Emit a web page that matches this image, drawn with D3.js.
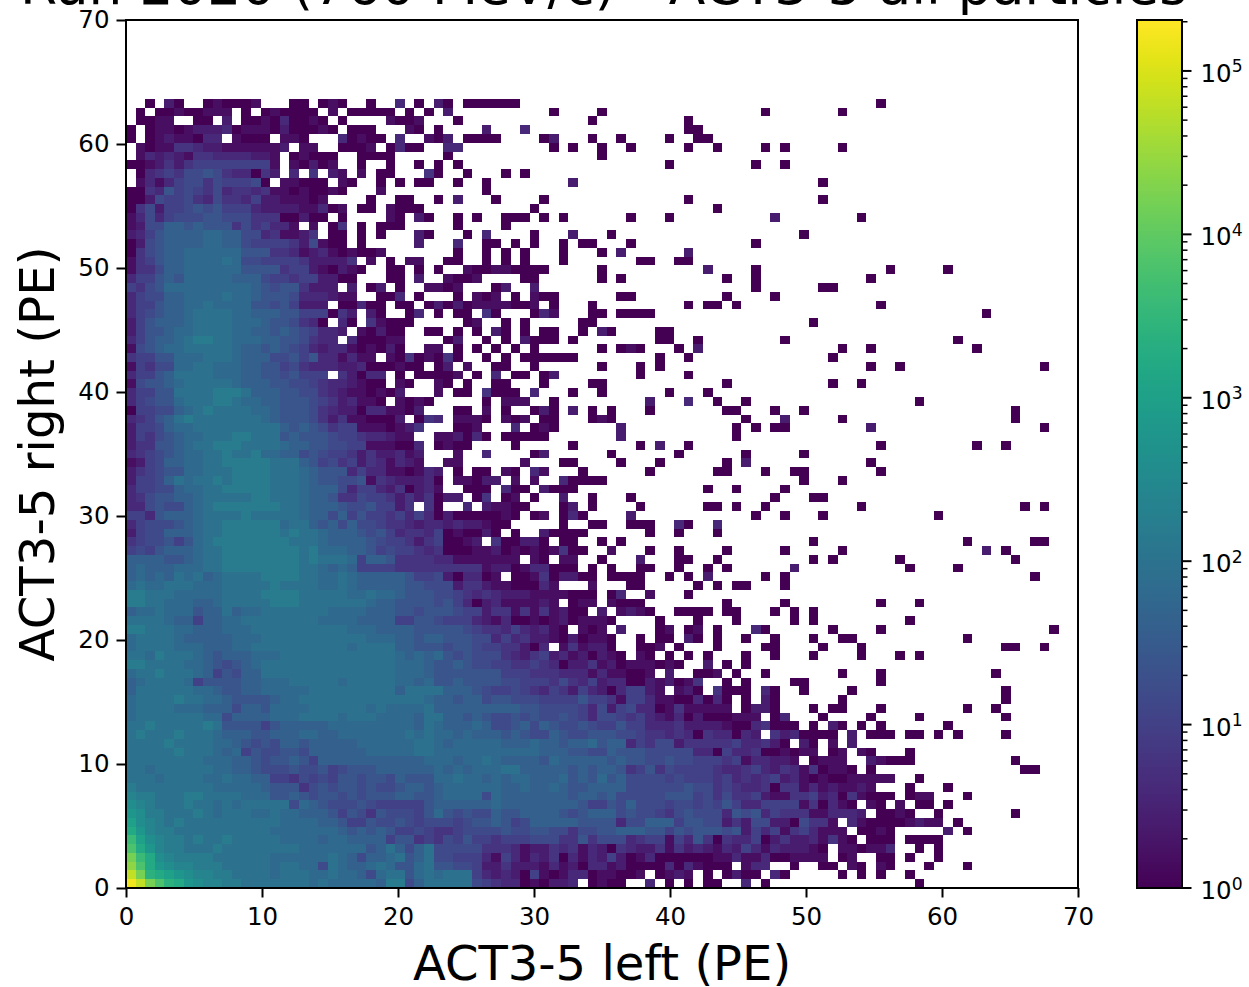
<!DOCTYPE html>
<html><head><meta charset="utf-8">
<script src="https://cdn.jsdelivr.net/npm/d3@7"></script>
<style>html,body{margin:0;padding:0;background:#fff;overflow:hidden}svg{display:block}text{font-family:"DejaVu Sans";fill:#000}</style>
</head><body><svg id="c" width="1249" height="987"></svg>
<script>
const titleText = "Run 2020 (760 MeV/c) - ACT3-5 all particles";
const xLabel = "ACT3-5 left (PE)";
const yLabel = "ACT3-5 right (PE)";
const axisTicks = [0,10,20,30,40,50,60,70];
const axisMax = 70;
const binCount = 99;
const colorMin = 1, colorMax = 2.05e5;
const colorDecades = [0,1,2,3,4,5];
// each character is a count level in base 36: count = 10^(level/5); "." is an empty bin
// columns 0-31, rows from bottom to top
const leftColumns = [
"qoljhgedcc bbaaaaaaa9 a999998bb6 8a","olhgfedccb baaaa9aaa9 9a99869aa7 9a","mjgedccbbb aaaaa9aa99 6a9889a977 9a","ligdcbbbba aaaaa99999 9a986889a7 8a",
"jgecbbaaab aaaaaaaa99 9999978a86 8a","ifdcbbabaa baaaaa9999 8998888577 45","gecbbaaaaa aaaaa99999 9987878755 65","fdcbabaaaa aaaaaa9999 8875576676 56",
"edbbaaaba9 aaa99a9988 8757647666 57","dcbaaabaa9 a9aaaaa698 7666765555 57","cbbaaabbaa aa99977876 7767677788 77","baaaaaaaa9 9999877746 7677676678 87",
"aaa9aaaa99 a998855465 6577677687 77","aa9aaaaaa9 9887666766 7567778888 88","aaaaaaaa99 9887677875 8888888888 89","aaaaabaaa9 8957667768 8888899999 aa",
"aaaabaaaa9 9876768878 8888999999 aa","abaaabaaa9 8887788899 889999999a 9a","aabaaaaaba 7777578888 8999999999 8a","9aaaaaaa99 68888999aa aa9aaa9999 8a",
"9aaaa99988 868879999a aaaaa9a999 9a","9aaaabaa99 87777899aa aaaaaaaaaa a9","8aaaaaa998 778899999a aaaaaaaa8a aa","89aaaa9577 7788999aaa aa9aaaaa99 89",
"9aabaaa985 7688aaaaaa aaaaaaaa99 98","bbaaaa9987 6789aaaaaa aaaaaaaa99 98","aa9baaa987 888999aaaa aaaaaaaa98 98","9aaaa99988 899aaaaaaa aaa9aaaa88 77",
"9aaaa98888 8999aaaaaa aaaaa99988 78","bbaaa99888 999aaaaaaa aaa9998888 77","aaaa988588 99aaaaaaaa 9999888855 77","899a999788 a899aaaaaa a999988877 67",
"bbaa999889 aaaaabbbaa aaaaa98877 77","bbaaa99999 aaaabbbbaa aaa99a9987 77","9a99aaa999 aaaaabaaaa 99a9888887 76","89898a9a89 aaaabbbbaa 99a9888887 55",
"89888999aa bbbbbbbbaa 9898555544 44","88887789aa bbbbbbbbab aaa9588744 44","56578889aa bbbbbbbbab 9998875655 43","45667579ab bbbbbbbaaa 9888876554 24",
"25668889aa bbbbbbabaa 9888767534 43","35666789aa bbbbbb9aa8 7868665443 23","55378889aa aabaaaaa98 8685755453 53","33676689ab bbbbbbaa98 8876675524 .4",
"34677889aa aaabbaaa98 8744655424 24","35566899aa bbbbbaaa98 8863553240 23","25568a9aab abbbbaaa98 7766714322 23","24567799aa abbbbaaa98 7773533110 13",
"12568899aa bbbbbaaa87 5645243132 1.","34567899aa baab998867 6554242231 2.","2447789aab bbaaaa9887 7665511100 3.","25467899aa abbaaa7877 7655433211 ..",
"2556899aaa aaaaaa8787 6455111012 4.","34578abaaa aaaa987776 424110002. 04","0556689aba aaa9987776 4322033110 2.","356779aaab ba99887776 5423110.10 10",
"35577aaaab bba8887766 432110102. ..","167789aaaa a988877665 4332100.10 ..","35578aaaa9 9988776755 5.42033.0. 00","1546699aa9 9988775643 3322300010 0.",
"45577999aa a988866757 331311.104 01","167899aaaa a988787653 233101020. .1","357889abba a999887764 33.300011. ..","2577899aaa a998878765 332.10200. .0",
"2578889aaa a999877643 0.30.41000 ..","3567889aaa a998887755 5042.20..0 3.","35578899a9 9997767522 2.00300.00 .0","3566889999 a998777633 3211..003. 0.",
"5467999999 9998767742 22.2.02.0. .1","3557879999 9888655455 2200...00. 2.","1446889999 9977774552 10210..00. 0.","1457889999 a966555542 2224.1.0.1 1.",
"0467889999 9977744312 3101001... ..","0267888899 8865555426 100.0..... 2.","2357888899 8866341124 .00.0.0... 20","1266887877 74645331.1 .04.0.000. ..",
"1363566677 6664440020 0.0....10. 20","0462556767 5553222211 301.00.100 0.","0026556436 4435221110 1....0..00 ..","0043756546 3443411010 010...1... ..",
".131356646 55560.1100 0.10..0.0. 00",".034546676 433042.3.4 .21.1.00.. .4","0012424555 555551.102 01..0..0.. 0.",".132321443 333221.010 00..0000.. ..",
".101144322 1111112.11 ..0001.030 0.","0.01211033 .1000.110. ..30100.3. .1","0.01101222 3011102000 10.000...1 0.",".0011..00. 2.00103001 0.0....100 1.",
".0.0010011 1.0.010000 .1.00000.0 .0","..0.20..01 0001...00. 010..0..3. 0."
];
// columns 32-63 of the lowest 31 rows
const middleColumns = [
"aaaa654330 10223.0100 ..3.0.0.00 ..","9aaa532320 5101330110 01.0121.0. 02","7766522422 2131203312 0000303100 0.","6655531531 3240313252 0130000001 13",
"6666644431 2243413204 3224142321 32","4657554555 6664474666 3455153740 43","4456666766 7766466778 8877576777 67","6656778756 8888877773 6688857766 24",
"9767668778 8887678886 7665467666 37","8888889888 8888875576 8666566565 75","8999969888 8888788786 6666777564 64","8999999889 8898778888 6666667664 54",
"99a9989899 8889787978 6666565554 53","9898999aa8 8888787887 4574655554 33","99899a9888 8798888878 7766766555 45","9999999999 9888776687 7766666330 53",
"9899999888 9887889788 3546624444 45","9989888787 6687667776 6544343043 30","9888986678 6876676557 5533342222 10","a887876676 7667653665 4532130200 01",
"8888888887 7666653625 6330141111 1.","8878867766 6555575541 5531100303 0.","a888765565 4354253203 5521.120.4 00","7787777665 5546435233 00212014.. 0.",
"7777777555 4443331311 001.2..001 .0","7787665544 5430224120 111010..2. 0.","9767666432 4523120210 .10.0.0.0. ..","7677655442 03.141220. .001.0...0 ..",
"8777663534 221020110. .0.00.20.0 ..","7776544353 2310.101.2 ...01.01.0 ..","6555321300 101201110. ...0...0.. .0"
];
// remaining isolated bins, "column" or "column:level" (level 0 when omitted)
const scatteredBins = [
"64:3 66 82","64 65 67:3 68 74 76 78 81","64:1 65:3 66:3 69 72 73 75:1 76 78:1 79 83 87","64:1 65:1 66:3 67 68 69:1 70:1 71:1 72:1 74 75:1 78 79 81 84",
"64:5 65:3 66:1 67:3 68:2 69:2 70:2 71:1 72 74:1 75:1 76 77:1 78:1 79:3 82 84","64:3 65:5 66 67:2 68:4 69:2 70:2 71:3 72:1 73:4 74:1 75 77 78 79 81 82 83 84",
"64:2 65:5 66:3 67:5 68:1 69:4 70:5 71:3 72:1 73:1 74:1 76 77 78:1 79 85:2 87","64:2 65:6 66:6 67:2 68:2 69 70:6 71:4 72:4 73:1 75:3 76:1 77 78 79 80 81:1 82:2 83:1 84:1 86",
"64:6 65:7 66:3 67:5 68:4 69:4 70:4 71:1 72:1 73:3 74:3 75:3 76:2 78 79 80:1 81 84 92","64:3 65:3 66:5 67:5 68:5 69:5 70:1 71:4 72 73:3 74:1 75 77:1 78 80:1 82 83 85",
"64:4 65:5 66:2 67:1 68:1 69:4 70:4 71:5 72:2 73:3 74 75:4 76:1 77 78 79 81 82:1 83:1 87","64:3 65:3 66:4 67 68:4 69:4 70:1 71:3 72:1 73:2 74:1 75:1 76:2 77:1 81 85",
"64:4 65:3 66:4 67:5 68:2 69:3 70:1 71 72:1 73 74 75:1 76:1 77:1 78:1 79:1 82","64:4 65:5 66:3 67:2 68:4 69:3 70:1 71:4 72 73:1 74:1 75 77 93 94",
"64:1 65:3 66:3 67:2 68:2 69:1 71 72:1 73:1 74:1 77:2 78:1 79 80 81 92","64:3 65:4 66 67 68:1 69 70:1 71:1 73 74:1 76:1 77 81",
"64:3 65:3 66:4 67:2 68 70:2 71 73:1 75:2","64:3 65:2 67:4 68:2 69:3 70 71 72 73 75:2 77 78 79 81 82 84 86 91",
"64 65:3 66:4 67 68 69 71 73:2 74 76 78 85","64:1 65:1 67 68:3 72 77 82 91","64 65:2 66:2 67 71 73 74 78 87 90","64 66:2 67 74 91","64 66:3 67 70 75 91","64 69 70 78",
"66 74 78 90","64","64 67 71 76 80 82","66 67 72 76 91 92 95","64 67 71 74 75 87","65:3 66 73 78 96","69 71 81",
"32:7 33:7 34:6 35:5 36:5 37:2 38:4 39:4 40:1 41:4 42:1 43:4 44:1 45:2 46 47 49:2 51:1 52:2 53:1 54 57 58 59 60 62 63 67 69 71",
"32:6 33:7 34:5 35:3 36 37:2 38:3 39:1 40:1 41:1 42:1 43:2 44:1 46 47:1 48:1 50:1 51 52 53 62 68 78 82",
"32:6 33:6 34:5 35:4 36:3 37:4 38:3 39:2 40:2 41:2 42:1 43:1 44:1 45:1 46 47 48 50 51:3 54:1 58",
"32:6 33:6 34:2 35:4 36:4 37:2 38:1 39:1 40 41 42 43:3 44:1 48:1 52 53 59 61 63 64 68",
"32:6 33:2 34 35:3 36:3 37 38:1 40 41 42:1 43:4 44 45:2 46:2 47 48 50 51 52 53 56 58 60:2 66 68 94",
"32:4 33:4 34:4 35:4 36:4 37:1 38:2 39:2 40 41:1 42:3 43:3 44 45 46 48 50 53 54 57 60 62 69:2 81 86",
"32:3 33:3 34:1 35:1 36:1 37:1 38:1 39:1 40:1 42:1 43 45:1 46:1 49 53:2 57 58 61 71 73 80 92",
"32:4 33 34 35 36:1 37:1 38:2 39 40:1 41 42:1 43 44:1 45:4 46 47 50:1 54 57 62 68 74 89:2 91",
"32:5 33 34 35:1 36:2 38:4 39 40 41:2 42:2 43 45 46 49 51 71 87 94 95",
"32:5 33 34:1 35 36 37:2 38 40 43:2 44 45 46 47 54 57 61",
"32:3 33:2 34:3 35:2 36:2 37:1 38 39 45 48 49 52 53 54 57:3 58 61:3",
"32 33:2 34 35 36 37 38 39:1 40 42 43:1 45 46:3 47 52:2 65 68 72 84",
"32 35:3 37:2 38:1 39:1 40 41 45 46:2 48 53 60 61 63 66 76 93 95",
"32 33:2 34:2 36 37:4 39 40:1 42 45:2 48 52 67 71 72",
"32:1 35 36 37 39:3 40 41 43:2 44 45 46 60 63 68",
"32 34:1 35:1 36 37:2 38:2 40:1 42:1 45:3 46 47 48 49 70 74",
"32:2 34 36 37 39:1 40 42:3 43:1 47 54 61 62 66 69 70 78",
"33:1 34:1 41:1 45 46 51 55 62 64:2 77",
"34:1 37:3 42 43:2 50 57 64 70",
"32 33:1 34 35 40 46 53 55:2 58 78 88 91",
"32:1 33:1 34:2 35 36:3 37 39 40 41 42 43 51:2 63",
"34 35 36:1 40:3 42 43:1 44 51:2 63 65 67 68 77:2 95",
"32:3 34:1 35:1 36:1 37 39:1 40 41:1 43 44 48 49:1 50 64 68:2 74 92",
"34 35 37:1 39 42 43:2 44 46:2 48 50 54 62 63 67 70 92",
"37 39:1 40:1 41:1 44 54:2 58:3 61 64 82",
"32:1 34 35 37:4 38 39 40 42:3 46 49 56 60",
"32:1 33 35 38 39 43 48 49 62 73 76",
"32 33 34:1 36 38:3 40 41 43 44:2 53 58",
"32 33:2 35:1 38 39 42 49 53 55 77 80 95",
"32 33:4 34 37 39 41 42 43 44 45 46 55 58 73",
"32:1 34 36 38 40 42 49 51 52:1 53 57 59:2 74 77 88",
"33 34:2 37 39 41:2 42 43 44 46 55 56 59 68 86",
"32 34 36 38:2 39 41 43 44 47 49:2 50 55 56",
"35 36:1 39 41 47 48 71",
"32 34 35 37:4 38 42 43:3 44:1 48 49 51 52 53 54 89",
"32:2 33 34:2 35 36:1 37:1 38:1 39:1 40 41 42:1 44 48 58 60 61 63 78",
"34 36:1 37 38:1 40 42:1 43 44 51 52 62 67",
"32:1 33 34:1 38 39:2 42:2 65 72 73",
"33:1 34 35 36:1 41 42 49 51 62 65 77",
"32 35:1 36 37 38:1 39:1 40 41 42 43 49 60:2 65 79 85",
"33 34 37 39 41 45 53 54 57 58",
"34 37 39 41 45 49 51:2 58:2",
"34:3 37 38 40 42 45 47 48 52 65",
"35 37:3 42 46:2 50 70",
"34 39",
"34 36 39 40 41 43 45 52 56 67:2 76",
"42 61",
"32 34:2 38 43 58 72",
"37",
"34 37 46:2 72",
"32 35 39 41",
"32 34 56 65 68",
"33 49",
"33:3 34:3 44 46 49 52 58 61 66 68 74",
"32 33:2 35 36 37 38 43 44:2 48 51 56 59 60",
"32 37:2 41:3 58 59",
"34 48 58",
"33:2 44 49 66 74",
"32:2 33 35 36 37 38 39 40 78"
];

const levelToCount = l => Math.pow(10, l / 5);
const cells = [];
function addString(str, row, startCol){
  const s = str.replace(/ /g,"");
  for(let i=0;i<s.length;i++){
    if(s[i]===".") continue;
    cells.push({row, col:startCol+i, count:levelToCount(parseInt(s[i],36))});
  }
}
leftColumns.forEach((s,r)=>addString(s,r,0));
middleColumns.forEach((s,r)=>addString(s,r,32));
scatteredBins.forEach((s,r)=>{
  s.split(" ").filter(Boolean).forEach(t=>{
    const [c,l] = t.split(":");
    cells.push({row:r, col:+c, count:levelToCount(l?+l:0)});
  });
});

const m={l:126,r:1078,t:20,b:888};
const svg=d3.select("#c");
const x=d3.scaleLinear().domain([0,axisMax]).range([m.l,m.r]);
const y=d3.scaleLinear().domain([0,axisMax]).range([m.b,m.t]);
const color=d3.scaleSequentialLog(d3.interpolateViridis).domain([colorMin,colorMax]);
const binW=axisMax/binCount;

svg.append("g").attr("shape-rendering","crispEdges").selectAll("rect").data(cells).join("rect")
  .attr("x",d=>x(d.col*binW))
  .attr("y",d=>y((d.row+1)*binW))
  .attr("width",d=>x((d.col+1)*binW)-x(d.col*binW))
  .attr("height",d=>y(d.row*binW)-y((d.row+1)*binW))
  .attr("fill",d=>color(d.count));

const tickLen=9.5, fs=24.5;
const gx=svg.append("g").attr("transform",`translate(0,${m.b})`)
  .call(d3.axisBottom(x).tickValues(axisTicks).tickSize(tickLen).tickPadding(10).tickFormat(d3.format("d")));
const gy=svg.append("g").attr("transform",`translate(${m.l},0)`)
  .call(d3.axisLeft(y).tickValues(axisTicks).tickSize(tickLen).tickPadding(7).tickFormat(d3.format("d")));
[gx,gy].forEach(g=>{
  g.select(".domain").remove();
  g.selectAll("line").attr("stroke","#000").attr("stroke-width",2);
  g.selectAll("text").attr("font-size",fs).style("font-family","DejaVu Sans");
});
svg.append("rect").attr("x",m.l).attr("y",m.t).attr("width",m.r-m.l).attr("height",m.b-m.t)
  .attr("fill","none").attr("stroke","#000").attr("stroke-width",2);

svg.append("text").attr("x",602).attr("y",980).attr("text-anchor","middle").attr("font-size",48).text(xLabel);
svg.append("text").attr("transform","translate(54,454) rotate(-90)").attr("text-anchor","middle").attr("font-size",48.2).text(yLabel);
svg.append("text").attr("x",603.5).attr("y",4).attr("text-anchor","middle").attr("font-size",53.4).text(titleText);

// colour bar
const cb={l:1137,r:1182};
const cy=d3.scaleLog().domain([colorMin,colorMax]).range([m.b,m.t]);
const steps=d3.range(0,868);
svg.append("g").attr("shape-rendering","crispEdges").selectAll("rect").data(steps).join("rect")
  .attr("x",cb.l).attr("width",cb.r-cb.l)
  .attr("y",i=>m.b-i-1).attr("height",1.5)
  .attr("fill",i=>color(cy.invert(m.b-i-0.5)));
svg.append("rect").attr("x",cb.l).attr("y",m.t).attr("width",cb.r-cb.l).attr("height",m.b-m.t)
  .attr("fill","none").attr("stroke","#000").attr("stroke-width",2);
const minor=[];
colorDecades.forEach(p=>{for(let k=2;k<=9;k++){const v=k*Math.pow(10,p); if(v<=colorMax) minor.push(v);}});
svg.append("g").selectAll("line").data(minor).join("line")
  .attr("x1",cb.r).attr("x2",cb.r+5.5).attr("y1",d=>cy(d)).attr("y2",d=>cy(d))
  .attr("stroke","#000").attr("stroke-width",1.5);
const maj=svg.append("g").selectAll("g").data(colorDecades).join("g")
  .attr("transform",p=>`translate(${cb.r},${cy(Math.pow(10,p))})`);
maj.append("line").attr("x2",tickLen).attr("stroke","#000").attr("stroke-width",2);
const lab=maj.append("text").attr("x",18.5).attr("dy",11).attr("font-size",fs);
lab.append("tspan").text("10");
lab.append("tspan").attr("dy",-9.5).attr("font-size",fs*0.7).text(p=>p);
</script></body></html>
